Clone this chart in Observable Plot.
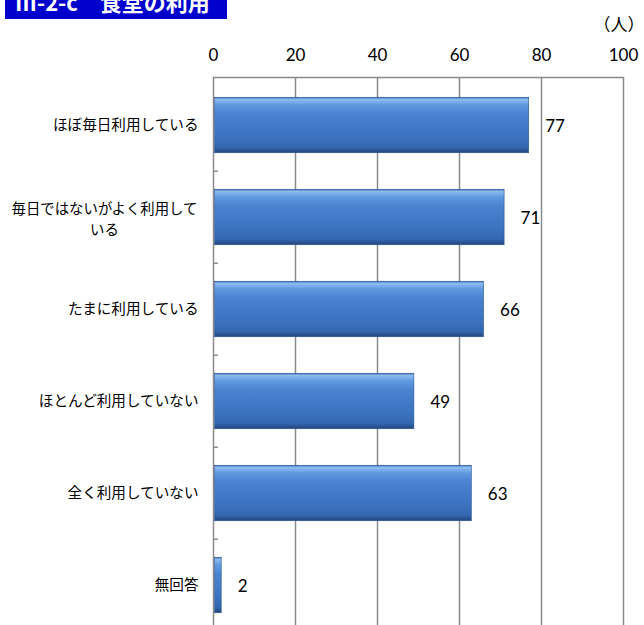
<!DOCTYPE html>
<html>
<head>
<meta charset="utf-8">
<script src="https://cdn.jsdelivr.net/npm/d3@7"></script>
<script src="https://cdn.jsdelivr.net/npm/@observablehq/plot@0.6"></script>
<style>
  html, body { margin: 0; padding: 0; background: #fff; overflow: hidden; }
  #wrap { position: relative; width: 644px; height: 625px; overflow: hidden; }
  #title { position: absolute; left: 5px; top: 0; width: 222px; height: 19px; background: #0000CC; overflow: hidden; }
  #title span { position: absolute; left: 10px; top: -10px; color: #fff; font-weight: bold; font-size: 22px; line-height: 22px; white-space: pre; font-family: "Noto Sans CJK JP", sans-serif; }
  #chart { position: absolute; left: 0; top: 0; }
</style>
</head>
<body>
<div id="wrap">
  <div id="chart"></div>
  <div id="title"><span>Ⅲ-2-c　食堂の利用</span></div>
</div>
<script>
const categories = ["ほぼ毎日利用している", "毎日ではないがよく利用している", "たまに利用している", "ほとんど利用していない", "全く利用していない", "無回答"];
const labelLines = ["ほぼ毎日利用している", "毎日ではないがよく利用して\nいる", "たまに利用している", "ほとんど利用していない", "全く利用していない", "無回答"];
const values = [77, 71, 66, 49, 63, 2];
const xTicks = [0, 20, 40, 60, 80, 100];
const unitLabel = "（人）";

const data = categories.map((c, i) => ({category: c, label: labelLines[i], value: values[i]}));
const single = data.filter(d => !d.label.includes("\n"));
const multi = data.filter(d => d.label.includes("\n"));

const jp = "'Noto Sans CJK JP', sans-serif";
const num = "Lato, 'Noto Sans CJK JP', sans-serif";

const svg = Plot.plot({
  width: 644,
  height: 632,
  marginTop: 77,
  marginLeft: 213,
  marginRight: 21,
  marginBottom: 0,
  x: {domain: [0, 100], axis: null},
  y: {domain: categories, axis: null, padding: 0},
  style: {background: "transparent"},
  marks: [
    Plot.ruleX([20, 40, 60, 80], {stroke: "#8a8a8a", strokeWidth: 1.5}),
    Plot.frame({stroke: "#8a8a8a", strokeWidth: 1.5}),
    Plot.ruleY(categories.slice(1), {y: d => d, x1: 0, x2: 1.2, dy: -46.25, stroke: "#8a8a8a", strokeWidth: 1.5}),
    Plot.barX(data, {
      y: "category", x1: 0, x2: "value",
      insetTop: 18.25, insetBottom: 18.25, insetLeft: 1.5,
      fill: "url(#barGrad)", stroke: "#2b5590", strokeWidth: 0.6,
      style: "filter:url(#barShadow)"
    }),
    Plot.text(data, {
      y: "category", x: "value", text: d => String(d.value),
      textAnchor: "start", dx: 16, dy: 1,
      fontSize: 17, fill: "#000", fontFamily: num
    }),
    Plot.text(single, {
      y: "category", text: "label", frameAnchor: "left",
      textAnchor: "end", dx: -15, fontSize: 14.6, fill: "#000", fontFamily: jp
    }),
    Plot.text(multi, {
      y: "category", text: "label", frameAnchor: "left",
      textAnchor: "middle", dx: -109, lineHeight: 1.45, fontSize: 14.4, fill: "#000", fontFamily: jp
    }),
    Plot.text(xTicks, {
      x: d => d, frameAnchor: "top", dy: -29,
      fontSize: 17, fill: "#000", fontFamily: num
    }),
    Plot.text([unitLabel], {
      frameAnchor: "top-right", textAnchor: "end", dx: 21, dy: -59,
      fontSize: 17, fill: "#000", fontFamily: jp
    })
  ]
});

d3.select(svg).insert("defs", ":first-child").html(`
  <linearGradient id="barGrad" x1="0" y1="0" x2="0" y2="1">
    <stop offset="0" stop-color="#3b70b8"/>
    <stop offset="0.04" stop-color="#8dbbf0"/>
    <stop offset="0.14" stop-color="#6199e0"/>
    <stop offset="0.3" stop-color="#4a83d0"/>
    <stop offset="0.7" stop-color="#3c73c0"/>
    <stop offset="0.9" stop-color="#3467b1"/>
    <stop offset="1" stop-color="#20457c"/>
  </linearGradient>
  <filter id="barShadow" x="-5%" y="-20%" width="115%" height="150%">
    <feDropShadow dx="2" dy="3" stdDeviation="2" flood-color="#000" flood-opacity="0.3"/>
  </filter>
`);

document.getElementById("chart").appendChild(svg);
</script>
</body>
</html>
